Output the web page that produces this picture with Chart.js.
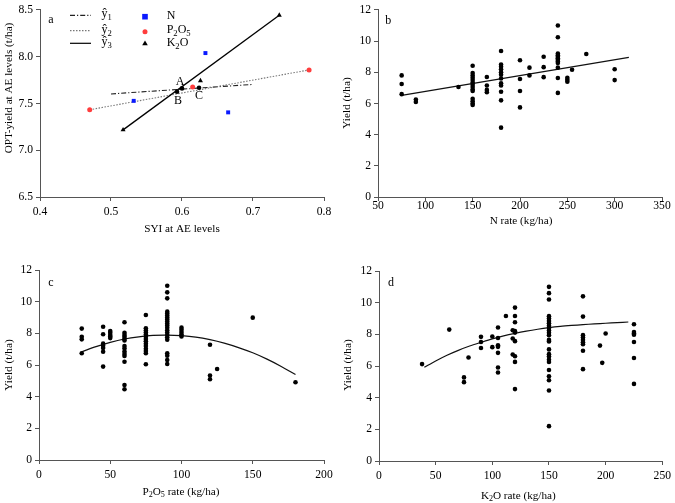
<!DOCTYPE html>
<html>
<head>
<meta charset="utf-8">
<script src="https://cdn.jsdelivr.net/npm/chart.js@4.4.1/dist/chart.umd.min.js"></script>
<style>
  html, body { margin: 0; padding: 0; background: #fff; }
  #wrap { position: relative; width: 675px; height: 503px; }
  canvas { position: absolute; }
</style>
</head>
<body>
<div id="wrap">
  <canvas id="pa" width="337" height="250" style="left:0;top:0"></canvas>
  <canvas id="pb" width="338" height="250" style="left:337px;top:0"></canvas>
  <canvas id="pc" width="337" height="253" style="left:0;top:250px"></canvas>
  <canvas id="pd" width="338" height="253" style="left:337px;top:250px"></canvas>
</div>
<script>
// ---- panel a: SYI vs OPT-yield at AE levels
const syiN = [0.532, 0.633, 0.665];
const optN = [7.528, 8.039, 7.405];
const syiP = [0.470, 0.615, 0.779];
const optP = [7.433, 7.676, 7.859];
const syiK = [0.517, 0.626, 0.737];
const optK = [7.218, 7.743, 8.444];
const yhat1X = [0.50, 0.70];
const yhat1Y = [7.602, 7.704];
const yhat2X = [0.47, 0.779];
const yhat2Y = [7.433, 7.859];
const yhat3X = [0.517, 0.737];
const yhat3Y = [7.218, 8.444];
const crossLabels = ['A', 'B', 'C'];
const crossX = [0.600, 0.593, 0.624];
const crossY = [7.661, 7.625, 7.669];

// ---- panel b: N rate vs yield (values grouped by rate)
const nRates = [75, 90, 135, 150, 165, 180, 200, 210, 225, 240, 250, 255, 270, 300];
const nYields = [
    [7.8, 7.25, 6.6],
    [6.25, 6.1],
    [7.06],
    [8.42, 7.95, 7.8, 7.65, 7.5, 7.35, 7.2, 7.05, 6.9, 6.8, 6.3, 6.15, 6.0, 5.9],
    [7.7, 7.15, 6.87, 6.72],
    [9.37, 8.5, 8.35, 8.2, 8.0, 7.85, 7.6, 7.3, 7.15, 6.75, 6.2, 4.45],
    [8.77, 7.57, 6.8, 5.75],
    [8.3, 7.8],
    [9.0, 8.33, 7.69],
    [11.0, 10.25, 9.2, 9.1, 9.0, 8.9, 8.8, 8.7, 8.6, 8.3, 7.63, 6.68],
    [7.65, 7.52, 7.4],
    [8.16],
    [9.17],
    [8.2, 7.5]
];
const nFitX = [75, 315];
const nFitY = [6.52, 8.96];

// ---- panel c: P2O5 rate vs yield
const pRates = [30, 45, 50, 60, 75, 90, 100, 120, 125, 150, 180];
const pYields = [
    [8.3, 7.78, 7.62, 6.74],
    [8.42, 7.94, 7.35, 7.22, 7.08, 6.84, 5.9],
    [8.15, 8.03, 7.9, 7.8, 7.7],
    [8.7, 8.04, 7.9, 7.78, 7.66, 7.55, 7.2, 7.05, 6.85, 6.7, 6.57, 6.21, 4.74, 4.47],
    [9.16, 8.32, 8.18, 8.05, 7.92, 7.78, 7.64, 7.5, 7.35, 7.2, 7.02, 6.88, 6.74, 6.05],
    [11.01, 10.59, 10.21, 9.37, 9.25, 9.12, 9.0, 8.88, 8.75, 8.62, 8.5, 8.35, 8.2, 8.05, 7.9, 7.75, 7.6, 6.74, 6.59, 6.32, 6.06],
    [8.36, 8.22, 8.08, 7.95, 7.8],
    [7.28, 5.33, 5.1],
    [5.75],
    [8.99],
    [4.91]
];
const pFitX = [30, 40, 50, 60, 70, 80, 90, 100, 110, 120, 130, 140, 150, 160, 170, 180];
const pFitY = [6.84, 7.16, 7.43, 7.64, 7.78, 7.87, 7.89, 7.85, 7.76, 7.60, 7.38, 7.10, 6.77, 6.37, 5.91, 5.40];

// ---- panel d: K2O rate vs yield
const kRates = [38, 62, 75, 79, 90, 100, 105, 112, 118, 120, 150, 180, 195, 197, 200, 225];
const kYields = [
    [6.12],
    [8.3],
    [5.28, 4.98],
    [6.54],
    [7.84, 7.52, 7.14],
    [7.86, 7.19],
    [8.43, 7.77, 7.31, 7.21, 6.83, 5.91, 5.59],
    [9.16],
    [8.26, 7.74, 6.73],
    [9.69, 9.16, 8.76, 8.2, 8.11, 7.57, 6.62, 6.26, 4.54],
    [11.0, 10.6, 10.2, 9.15, 9.0, 8.85, 8.7, 8.55, 8.4, 8.25, 8.1, 7.95, 7.65, 7.55, 7.05, 6.75, 6.6, 6.4, 6.25, 5.75, 5.35, 5.1, 4.45, 2.2],
    [10.4, 9.12, 7.95, 7.8, 7.65, 7.5, 7.38, 6.96, 5.8],
    [7.29],
    [6.2],
    [8.05],
    [8.64, 8.15, 8.05, 7.98, 7.52, 6.51, 4.87]
];
const kFitX = [40, 50, 60, 70, 80, 90, 100, 110, 120, 130, 140, 150, 160, 170, 180, 190, 200, 210, 220];
const kFitY = [5.92, 6.32, 6.68, 6.99, 7.26, 7.49, 7.71, 7.90, 8.06, 8.20, 8.32, 8.42, 8.50, 8.56, 8.61, 8.66, 8.70, 8.74, 8.78];

const FONT = '"Liberation Serif", "Times New Roman", "DejaVu Serif", serif';
const AXIS_COLOR = '#555';

function pairs(xs, ys) {
    return xs.map((x, i) => ({ x: x, y: ys[i] }));
}

function expand(rates, groups) {
    const pts = [];
    rates.forEach((r, i) => {
        groups[i].forEach(v => pts.push({ x: r, y: v }));
    });
    return pts;
}

// text with optional subscript pieces: parts = [[text, isSub], ...]
function drawRich(ctx, parts, x, y, size, align) {
    const subSize = size * 0.72;
    let w = 0;
    parts.forEach(p => {
        ctx.font = (p[1] ? subSize : size) + 'px ' + FONT;
        w += ctx.measureText(p[0]).width;
    });
    let cx = align === 'left' ? x : x - w / 2;
    parts.forEach(p => {
        ctx.font = (p[1] ? subSize : size) + 'px ' + FONT;
        ctx.fillText(p[0], cx, p[1] ? y + size * 0.3 : y);
        cx += ctx.measureText(p[0]).width;
    });
}

function decorPlugin(cfg) {
    return {
        id: 'decor',
        afterDraw(chart) {
            const ctx = chart.ctx;
            ctx.save();
            ctx.fillStyle = '#000';
            ctx.textBaseline = 'middle';
            drawRich(ctx, [[cfg.letter]], cfg.letterPos[0], cfg.letterPos[1], 12, 'center');
            drawRich(ctx, cfg.xTitle, cfg.xTitlePos[0], cfg.xTitlePos[1], 11.2, 'center');
            ctx.save();
            ctx.translate(cfg.yTitlePos[0], cfg.yTitlePos[1]);
            ctx.rotate(-Math.PI / 2);
            drawRich(ctx, cfg.yTitle, 0, 0, 11.2, 'center');
            ctx.restore();
            if (cfg.extra) cfg.extra(chart, ctx);
            ctx.restore();
        }
    };
}

function scaleOpts(min, max, step, fix, box, digits, pad) {
    return {
        type: 'linear',
        min: min,
        max: max,
        ticks: {
            stepSize: step,
            color: '#000',
            padding: pad,
            font: { family: FONT, size: 11.6 },
            callback: v => digits ? Number(v).toFixed(digits) : String(Math.round(v))
        },
        grid: {
            display: true,
            drawOnChartArea: false,
            drawTicks: true,
            tickLength: 4,
            color: AXIS_COLOR
        },
        border: { display: true, color: AXIS_COLOR, width: 1 },
        title: { display: false },
        afterFit(s) {
            if (fix === 'w') s.width = box; else s.height = box;
        }
    };
}

function makeChart(id, datasets, area, xs, ys, decor) {
    const el = document.getElementById(id);
    return new Chart(el.getContext('2d'), {
        type: 'scatter',
        data: { datasets: datasets },
        options: {
            responsive: false,
            animation: false,
            events: [],
            layout: {
                autoPadding: false,
                padding: { left: 0, top: area.top, right: area.right, bottom: 0 }
            },
            plugins: { legend: { display: false }, tooltip: { enabled: false } },
            scales: {
                x: scaleOpts(xs.min, xs.max, xs.step, 'h', area.xh, xs.digits, xs.pad),
                y: scaleOpts(ys.min, ys.max, ys.step, 'w', area.yw, ys.digits, 3)
            }
        },
        plugins: [decorPlugin(decor)]
    });
}

function dotSet(points) {
    return {
        data: points,
        pointRadius: 2.3,
        pointBackgroundColor: '#000',
        pointBorderWidth: 0,
        showLine: false
    };
}

function fitSet(xs, ys, tension) {
    return {
        data: pairs(xs, ys),
        showLine: true,
        pointRadius: 0,
        borderColor: '#111',
        borderWidth: 1.2,
        tension: tension,
        fill: false
    };
}

// ---- panel a
makeChart('pa', [
    { data: pairs(syiN, optN), pointStyle: 'rect', pointRadius: 2.8, pointBackgroundColor: '#0a1aff', pointBorderWidth: 0, showLine: false },
    { data: pairs(syiP, optP), pointStyle: 'circle', pointRadius: 2.5, pointBackgroundColor: '#ff3d3d', pointBorderWidth: 0, showLine: false },
    { data: pairs(syiK, optK), pointStyle: 'triangle', pointRadius: 2.9, pointBackgroundColor: '#000', pointBorderWidth: 0, showLine: false },
    { data: pairs(crossX, crossY), pointRadius: 2.3, pointBackgroundColor: '#000', pointBorderWidth: 0, showLine: false },
    { data: pairs(yhat3X, yhat3Y), showLine: true, pointRadius: 0, borderColor: '#000', borderWidth: 1.3 },
    { data: pairs(yhat2X, yhat2Y), showLine: true, pointRadius: 0, borderColor: '#777', borderWidth: 1.1, borderDash: [1.5, 1.5] },
    { data: pairs(yhat1X, yhat1Y), showLine: true, pointRadius: 0, borderColor: '#222', borderWidth: 1.1, borderDash: [5, 2, 1.2, 2] }
], { top: 7, right: 13, xh: 53, yw: 40 },
   { min: 0.4, max: 0.8, step: 0.1, digits: 1, pad: 4 },
   { min: 6.5, max: 8.5, step: 0.5, digits: 1 },
   {
       letter: 'a', letterPos: [51, 20],
       xTitle: [['SYI at AE levels']], xTitlePos: [182, 229],
       yTitle: [['OPT-yield at AE levels (t/ha)']], yTitlePos: [9, 88],
       extra(chart, ctx) {
           const xs = chart.scales.x, ys = chart.scales.y;
           const offs = [[-2, -7], [1, 9], [0, 8]];
           crossLabels.forEach((t, i) => {
               drawRich(ctx, [[t]], xs.getPixelForValue(crossX[i]) + offs[i][0],
                   ys.getPixelForValue(crossY[i]) + offs[i][1], 12, 'center');
           });
           // legend
           const rows = [15.3, 30.7, 43.3];
           const styles = [
               { c: '#222', d: [5, 2, 1.2, 2] },
               { c: '#777', d: [1.5, 1.5] },
               { c: '#000', d: [] }
           ];
           rows.forEach((y, i) => {
               ctx.save();
               ctx.strokeStyle = styles[i].c;
               ctx.lineWidth = 1.2;
               ctx.setLineDash(styles[i].d);
               ctx.beginPath();
               ctx.moveTo(70, y);
               ctx.lineTo(91, y);
               ctx.stroke();
               ctx.restore();
               drawRich(ctx, [['ŷ'], [String(i + 1), 1]], 101.5, y - 1, 12, 'left');
           });
           const mx = 145;
           ctx.fillStyle = '#0a1aff';
           ctx.fillRect(mx - 2.8, 16.7 - 2.8, 5.6, 5.6);
           ctx.fillStyle = '#ff3d3d';
           ctx.beginPath();
           ctx.arc(mx, 31.7, 2.5, 0, Math.PI * 2);
           ctx.fill();
           ctx.fillStyle = '#000';
           ctx.beginPath();
           ctx.moveTo(mx, 40.5);
           ctx.lineTo(mx + 2.8, 45.3);
           ctx.lineTo(mx - 2.8, 45.3);
           ctx.closePath();
           ctx.fill();
           drawRich(ctx, [['N']], 166.7, 16, 12, 'left');
           drawRich(ctx, [['P'], ['2', 1], ['O'], ['5', 1]], 166.7, 30, 12, 'left');
           drawRich(ctx, [['K'], ['2', 1], ['O']], 166.7, 43, 12, 'left');
       }
   });

// ---- panel b
makeChart('pb', [
    dotSet(expand(nRates, nYields)),
    fitSet(nFitX, nFitY, 0)
], { top: 7, right: 13, xh: 53, yw: 41 },
   { min: 50, max: 350, step: 50, digits: 0, pad: -2 },
   { min: 0, max: 12, step: 2, digits: 0 },
   {
       letter: 'b', letterPos: [51.3, 20.7],
       xTitle: [['N rate (kg/ha)']], xTitlePos: [184, 221],
       yTitle: [['Yield (t/ha)']], yTitlePos: [9.7, 103]
   });

// ---- panel c
makeChart('pc', [
    dotSet(expand(pRates, pYields)),
    fitSet(pFitX, pFitY, 0.3)
], { top: 20, right: 13, xh: 43, yw: 39 },
   { min: 0, max: 200, step: 50, digits: 0, pad: 4 },
   { min: 0, max: 12, step: 2, digits: 0 },
   {
       letter: 'c', letterPos: [51, 33.3],
       xTitle: [['P'], ['2', 1], ['O'], ['5', 1], [' rate (kg/ha)']], xTitlePos: [181, 241.7],
       yTitle: [['Yield (t/ha)']], yTitlePos: [9.3, 115]
   });

// ---- panel d
makeChart('pd', [
    dotSet(expand(kRates, kYields)),
    fitSet(kFitX, kFitY, 0.3)
], { top: 21, right: 12, xh: 42, yw: 42 },
   { min: 0, max: 250, step: 50, digits: 0, pad: 4 },
   { min: 0, max: 12, step: 2, digits: 0 },
   {
       letter: 'd', letterPos: [54, 33.3],
       xTitle: [['K'], ['2', 1], ['O rate (kg/ha)']], xTitlePos: [181.3, 245.7],
       yTitle: [['Yield (t/ha)']], yTitlePos: [11.3, 115]
   });
</script>
</body>
</html>
